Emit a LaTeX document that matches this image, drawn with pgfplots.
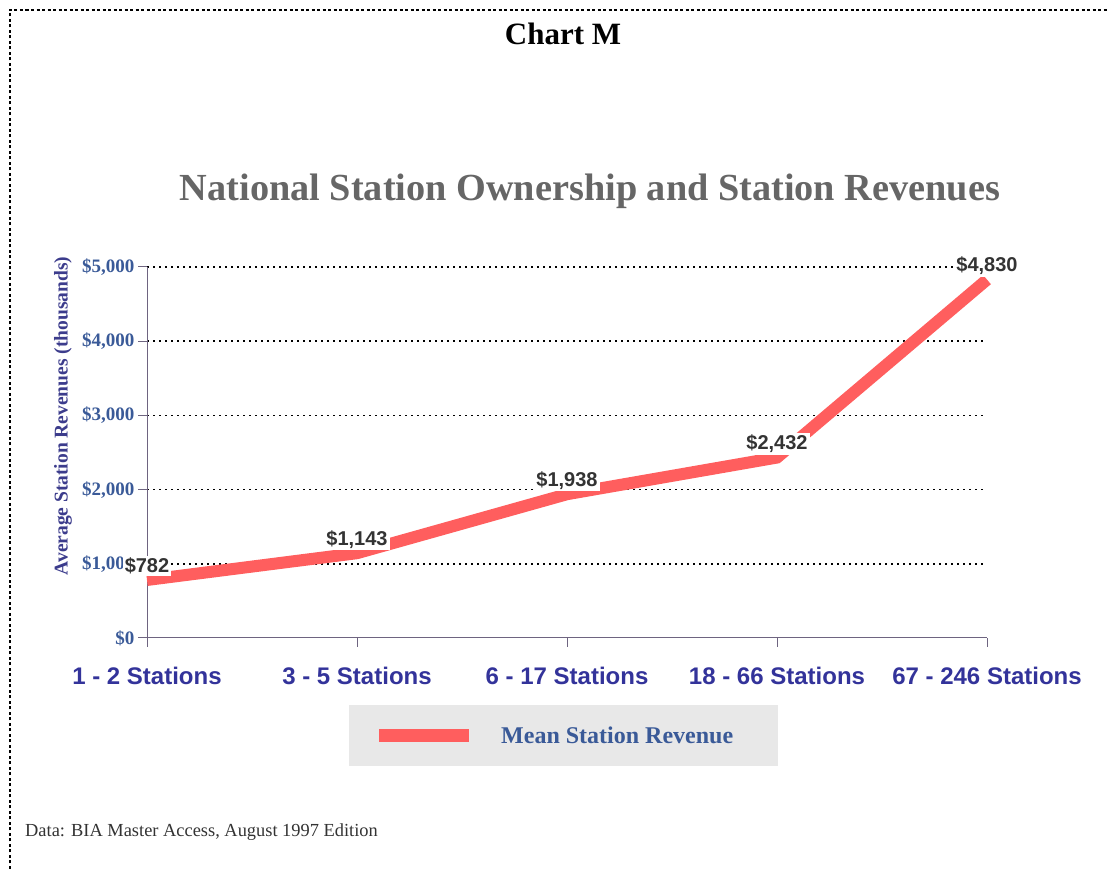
\documentclass[border=0pt]{standalone}
\usepackage{pgfplots}
\pgfplotsset{compat=1.18}
\usepackage{fontspec}
\setmainfont{Liberation Serif}
\newfontfamily\sans{Liberation Sans}
\definecolor{linecol}{HTML}{FF5E5E}
\definecolor{axiscol}{HTML}{6E6480}
\definecolor{ytickcol}{HTML}{3A5A98}
\definecolor{ylabcol}{HTML}{3C3C8C}
\definecolor{xtickcol}{HTML}{33339A}
\definecolor{titlecol}{HTML}{666666}
\definecolor{labelcol}{HTML}{333333}
\definecolor{legendgray}{HTML}{E8E8E8}
\begin{document}
\begin{tikzpicture}
\useasboundingbox (0,0) rectangle (1107pt,869pt);
% page border
\draw[black, line width=1.5pt, dash pattern=on 3pt off 2.5pt] (10pt,0pt) -- (10pt,859pt) -- (1107pt,859pt);
% titles
\node[anchor=base, font=\bfseries\fontsize{31}{31}\selectfont] at (563pt,824pt) {Chart M};
\node[anchor=base, text=titlecol, font=\bfseries\fontsize{38.3}{38.3}\selectfont] at (590pt,668pt) {National Station Ownership and Station Revenues};
\node[rotate=90, text=ylabcol, font=\bfseries\fontsize{19.5}{19.5}\selectfont] at (63pt,453pt) {Average Station Revenues (thousands)};
\begin{axis}[
  at={(147pt,231pt)}, anchor=south west,
  scale only axis, width=840pt, height=371pt,
  xmin=0, xmax=4, ymin=0, ymax=5000,
  clip=false,
  axis x line=bottom, axis y line=left,
  axis line style={draw=axiscol, line width=1pt, -},
  tick style={draw=axiscol, line width=1pt},
  tick align=outside, major tick length=9pt,
  xtick={0,1,2,3,4},
  xticklabels={1 - 2 Stations, 3 - 5 Stations, 6 - 17 Stations, 18 - 66 Stations, 67 - 246 Stations},
  xticklabel style={text=xtickcol, font=\sans\bfseries\fontsize{24}{24}\selectfont, yshift=-17pt},
  ytick={1000,2000,3000,4000,5000},
  yticklabels={\$1{,}000,\$2{,}000,\$3{,}000,\$4{,}000,\$5{,}000},
  extra y ticks={0}, extra y tick labels={\$0},
  extra y tick style={grid=none},
  yticklabel style={text=ytickcol, font=\bfseries\fontsize{19}{19}\selectfont},
  ymajorgrids,
  major grid style={black, line width=1.5pt, dash pattern=on 2pt off 4pt},
]
\addplot[color=linecol, line width=12pt, line cap=butt, line join=miter,
  point meta=explicit symbolic,
  nodes near coords,
  every node near coord/.style={fill=white, inner sep=2pt, anchor=center, yshift=14pt,
     text=labelcol, font=\sans\bfseries\fontsize{20}{20}\selectfont}]
coordinates {
(0,782) [\$782]
(1,1143) [\$1,143]
(2,1938) [\$1,938]
(3,2432) [\$2,432]
(4,4830) [\$4,830]
};
\end{axis}
% legend
\fill[legendgray] (349pt,103pt) rectangle (778pt,164pt);
\draw[linecol, line width=13pt] (379pt,133.5pt) -- (469pt,133.5pt);
\node[anchor=base west, inner sep=0pt, text=ytickcol, font=\bfseries\fontsize{24}{24}\selectfont] at (501pt,125pt) {Mean Station Revenue};
% footnote
\node[anchor=base west, inner sep=0pt, text=labelcol, font=\fontsize{18.4}{18.4}\selectfont] at (25pt,32pt) {Data: BIA Master Access, August 1997 Edition};
\end{tikzpicture}
\end{document}
